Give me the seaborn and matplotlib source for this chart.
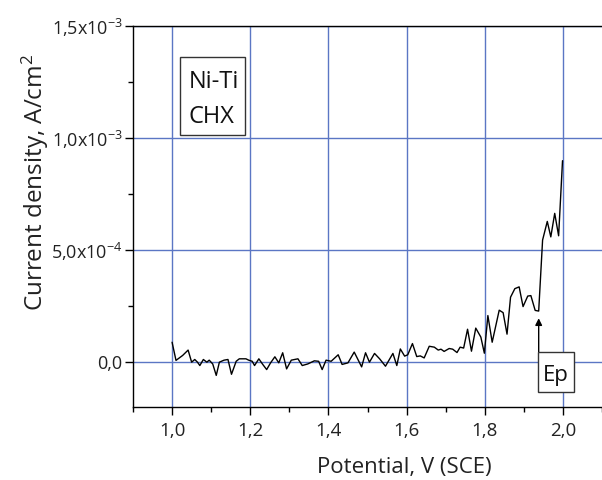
import numpy as np
import pandas as pd
import matplotlib
matplotlib.use("Agg")
import matplotlib.pyplot as plt
import seaborn as sns
from matplotlib.patches import Rectangle
from matplotlib.ticker import FixedLocator, MultipleLocator

# Potential (V vs SCE) and current density (in units of 1e-4 A/cm^2)
potential = [1.000, 1.010, 1.027, 1.041, 1.050, 1.058, 1.065, 1.071, 1.080, 1.089,
             1.095, 1.104, 1.113, 1.121, 1.133, 1.143, 1.152, 1.164, 1.172, 1.189,
             1.196, 1.205, 1.211, 1.222, 1.232, 1.242, 1.252, 1.263, 1.273, 1.283,
             1.293, 1.305, 1.322, 1.333, 1.347, 1.364, 1.375, 1.384, 1.394, 1.407,
             1.425, 1.435, 1.450, 1.466, 1.485, 1.495, 1.505, 1.518, 1.531, 1.546,
             1.565, 1.575, 1.584, 1.595, 1.603, 1.615, 1.626, 1.635, 1.645, 1.658,
             1.671, 1.681, 1.688, 1.696, 1.709, 1.718, 1.729, 1.737, 1.746, 1.756,
             1.766, 1.777, 1.790, 1.799, 1.808, 1.819, 1.837, 1.847, 1.857, 1.866,
             1.877, 1.888, 1.898, 1.910, 1.918, 1.929, 1.938, 1.948, 1.960, 1.969,
             1.979, 1.989, 1.999]
current_e4 = [0.89, 0.08, 0.30, 0.54, 0.00, 0.12, 0.00, -0.15, 0.12, 0.00,
              0.09, -0.08, -0.59, 0.00, 0.09, 0.12, -0.54, 0.04, 0.15, 0.15,
              0.09, 0.04, -0.15, 0.15, -0.10, -0.33, -0.03, 0.24, -0.03, 0.42,
              -0.30, 0.09, 0.15, -0.15, -0.08, 0.06, 0.04, -0.33, 0.09, 0.04,
              0.33, -0.10, -0.03, 0.45, -0.21, 0.42, 0.00, 0.39, 0.15, -0.18,
              0.39, -0.15, 0.59, 0.27, 0.33, 0.83, 0.25, 0.28, 0.19, 0.71,
              0.67, 0.54, 0.58, 0.48, 0.61, 0.58, 0.43, 0.67, 0.63, 1.47,
              0.49, 1.52, 1.12, 0.40, 2.08, 0.89, 2.32, 2.21, 1.25, 2.90,
              3.28, 3.36, 2.48, 2.95, 2.97, 2.31, 2.28, 5.45, 6.28, 5.59,
              6.64, 5.64, 8.99]

x_ticks = [1.0, 1.2, 1.4, 1.6, 1.8, 2.0]
x_tick_labels = ["1,0", "1,2", "1,4", "1,6", "1,8", "2,0"]
y_ticks = [0, 5, 10, 15]
y_tick_labels = ["0,0", r"5,0x10$^{-4}$", r"1,0x10$^{-3}$", r"1,5x10$^{-3}$"]

sns.set_style("ticks")
FONT = "Open Sans"
plt.rcParams["font.family"] = [FONT, "DejaVu Sans"]
plt.rcParams["mathtext.default"] = "regular"

fig = plt.figure(figsize=(6.02, 4.8), dpi=100)
ax = fig.add_axes([133 / 602, 1 - 407 / 480, (602 - 133) / 602, (407 - 26) / 480])

df = pd.DataFrame({"Potential": potential, "Current": current_e4})
sns.lineplot(data=df, x="Potential", y="Current", ax=ax, color="black",
             linewidth=1.0, sort=False, estimator=None, zorder=3)

ax.set_xlim(0.9, 2.1)
ax.set_ylim(-2.0, 15.0)
ax.xaxis.set_major_locator(FixedLocator(x_ticks))
ax.set_xticklabels(x_tick_labels)
ax.xaxis.set_minor_locator(MultipleLocator(0.1))
ax.yaxis.set_major_locator(FixedLocator(y_ticks))
ax.set_yticklabels(y_tick_labels)
ax.yaxis.set_minor_locator(FixedLocator([-2.5, 2.5, 7.5, 12.5]))

ax.grid(True, which="major", color="#5b76c4", linewidth=1.0)
ax.set_axisbelow(True)

for side in ["left", "bottom", "top"]:
    ax.spines[side].set_color("black")
    ax.spines[side].set_linewidth(1.0)
ax.spines["right"].set_visible(False)

ax.tick_params(which="major", direction="out", length=6, width=1.0, color="black",
               labelsize=13, labelcolor="#222222", pad=1.5)
ax.tick_params(which="minor", direction="out", length=3.5, width=1.0, color="black")
ax.tick_params(axis="x", which="major", pad=5, labelsize=13.5)

ax.set_xlabel("Potential, V (SCE)", fontsize=16, color="#222222")
ax.set_ylabel("Current density, A/cm$^{2}$", fontsize=17.5, color="#222222")
ax.xaxis.set_label_coords(0.578, -0.13)
ax.yaxis.set_label_coords(-0.175, 0.59)

# text box "Ni-Ti / CHX"
ax.add_patch(Rectangle((1.021, 10.13), 0.166, 3.50, facecolor="white",
                       edgecolor="#333333", linewidth=1.0, zorder=4))
ax.text(1.0425, 12.22, "Ni-Ti", fontsize=17, color="#111111", ha="left",
        va="baseline", zorder=5)
ax.text(1.0425, 10.68, "CHX", fontsize=17, color="#111111", ha="left",
        va="baseline", zorder=5)

# Ep marker
ax.annotate("", xy=(1.938, 1.96), xytext=(1.938, 0.46),
            arrowprops=dict(arrowstyle="-|>", color="black", lw=1.0,
                            mutation_scale=10, shrinkA=0, shrinkB=0), zorder=4)
ax.add_patch(Rectangle((1.9366, -1.35), 0.0921, 1.81, facecolor="white",
                       edgecolor="#333333", linewidth=1.0, zorder=4))
ax.text(1.9826, -0.85, "Ep", fontsize=16, color="#111111", ha="center",
        va="baseline", zorder=5)

fig.savefig("out.png", dpi=100)
